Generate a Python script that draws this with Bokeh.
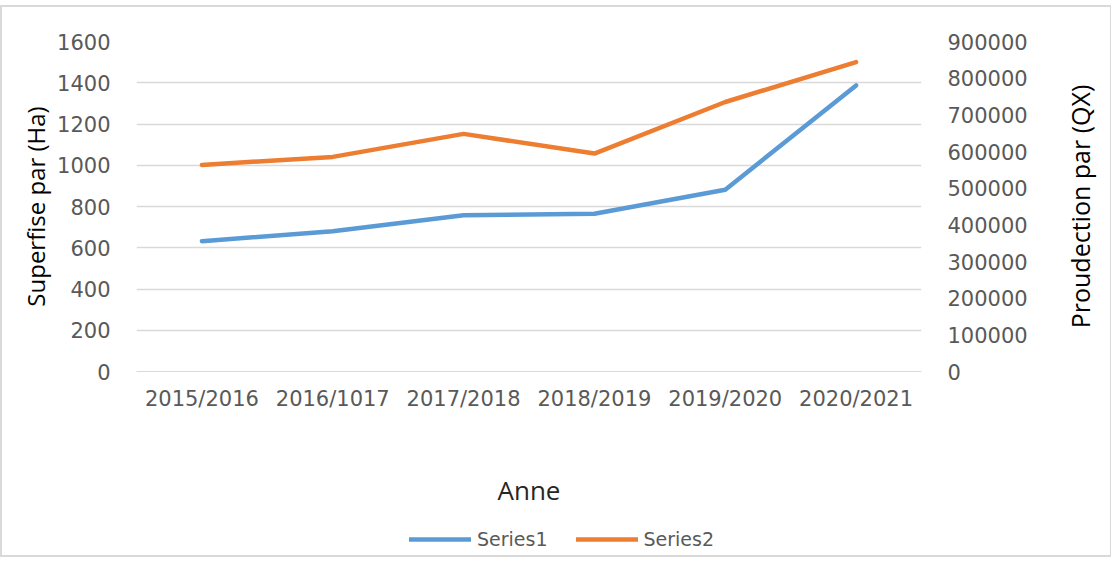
from bokeh.plotting import figure
from bokeh.layouts import column, row
from bokeh.models import (FactorRange, Range1d, LinearAxis, Legend, LegendItem, Title,
                          SingleIntervalTicker, ColumnDataSource, NumeralTickFormatter)
from bokeh.embed import file_html
from bokeh.resources import INLINE

categories = ["2015/2016", "2016/1017", "2017/2018", "2018/2019", "2019/2020", "2020/2021"]
series1 = [632, 680, 758, 765, 881, 1387]
series2 = [563500, 585300, 648000, 594300, 735000, 844000]
series_names = ["Series1", "Series2"]
colors = ["#5B9BD5", "#ED7D31"]

TICK_FONT = "DejaVu Sans"
TITLE_FONT = "Open Sans"
GRAY = "#595959"

p = figure(width=1058, height=504, x_range=FactorRange(*categories, range_padding=0),
           y_range=Range1d(0, 1600), output_backend="svg", toolbar_location=None,
           min_border_left=134, min_border_right=139, min_border_top=34, min_border_bottom=140)
p.outline_line_color = None
p.extra_y_ranges = {"right": Range1d(0, 900000)}

src = ColumnDataSource(dict(x=categories, s1=series1, s2=series2))
r1 = p.line("x", "s1", source=src, line_color=colors[0], line_width=4.5,
            line_join="round", line_cap="round")
r2 = p.line("x", "s2", source=src, line_color=colors[1], line_width=4.5,
            line_join="round", line_cap="round", y_range_name="right")

# left axis
ya = p.yaxis[0]
ya.ticker = SingleIntervalTicker(interval=200)
ya.axis_line_color = None
ya.major_tick_line_color = None
ya.minor_tick_line_color = None
ya.major_label_text_font = TICK_FONT
ya.major_label_text_font_size = "21px"
ya.major_label_text_color = GRAY
ya.major_label_standoff = 20
ya.axis_label = "Superfise par (Ha)"
ya.axis_label_text_font = TITLE_FONT
ya.axis_label_text_font_style = "normal"
ya.axis_label_text_font_size = "24px"
ya.axis_label_text_color = "#000000"
ya.axis_label_standoff = 2

# right axis (ticks only; its title is drawn reading upward in the side strip)
ra = LinearAxis(y_range_name="right", ticker=SingleIntervalTicker(interval=100000))
ra.formatter = NumeralTickFormatter(format="0")
ra.axis_line_color = None
ra.major_tick_line_color = None
ra.minor_tick_line_color = None
ra.major_label_text_font = TICK_FONT
ra.major_label_text_font_size = "21px"
ra.major_label_text_color = GRAY
ra.major_label_standoff = 20
p.add_layout(ra, "right")

# bottom axis
xa = p.xaxis[0]
xa.axis_line_color = "#d9d9d9"
xa.major_tick_line_color = None
xa.minor_tick_line_color = None
xa.major_label_text_font = TICK_FONT
xa.major_label_text_font_size = "21px"
xa.major_label_text_color = GRAY
xa.major_label_standoff = 9
xa.axis_label = "Anne"
xa.axis_label_text_font = TITLE_FONT
xa.axis_label_text_font_style = "normal"
xa.axis_label_text_font_size = "26px"
xa.axis_label_text_color = "#262626"
xa.axis_label_standoff = 58

p.xgrid.grid_line_color = None
p.ygrid.grid_line_color = "#d9d9d9"
p.ygrid.grid_line_width = 1.5

# right-hand title strip
p3 = figure(width=50, height=504, x_range=Range1d(0, 1), y_range=Range1d(0, 1),
            output_backend="svg", toolbar_location=None,
            x_axis_location=None, y_axis_location=None,
            min_border_left=0, min_border_right=0, min_border_top=34, min_border_bottom=140)
p3.outline_line_color = None
p3.grid.grid_line_color = None
p3.add_layout(Title(text="Proudection par (QX)", align="center", text_font=TITLE_FONT,
                    text_font_size="25px", text_font_style="normal",
                    text_color="#000000", standoff=0, offset=0), "left")

# legend strip
p2 = figure(width=1108, height=44, x_range=Range1d(0, 1), y_range=Range1d(0, 1),
            output_backend="svg", toolbar_location=None,
            x_axis_location=None, y_axis_location=None,
            min_border_left=0, min_border_right=0, min_border_top=0, min_border_bottom=0)
p2.outline_line_color = None
p2.grid.grid_line_color = None
nan = float("nan")
l1 = p2.line(x=[nan], y=[nan], line_color=colors[0], line_width=4.5, line_cap="round")
l2 = p2.line(x=[nan], y=[nan], line_color=colors[1], line_width=4.5, line_cap="round")
legend = Legend(items=[LegendItem(label=series_names[0], renderers=[l1]),
                       LegendItem(label=series_names[1], renderers=[l2])],
                orientation="horizontal", location=(407, 5),
                glyph_width=62, glyph_height=20, label_standoff=6, spacing=28,
                padding=0, margin=0, border_line_color=None, background_fill_alpha=0,
                label_text_font=TICK_FONT, label_text_font_size="19px",
                label_text_color=GRAY)
p2.add_layout(legend, "center")

layout = column(row(p, p3), p2)
layout.margin = (5, 0, 0, 0)
layout.styles = {"border": "2px solid #d9d9d9"}

open("out.html", "w").write(file_html(layout, INLINE))
